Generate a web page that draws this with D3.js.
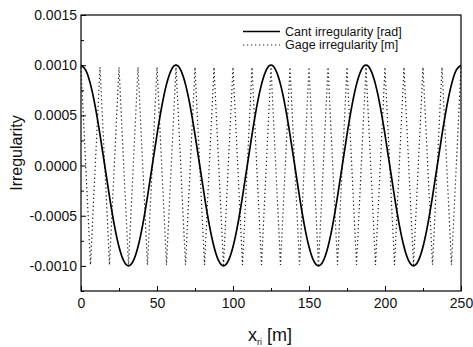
<!DOCTYPE html>
<html><head><meta charset="utf-8">
<script src="https://cdn.jsdelivr.net/npm/d3@7"></script>
<style>
html,body{margin:0;padding:0;background:#fff;}
text{font-family:"Liberation Sans",Arial,sans-serif;fill:#111;}
</style></head>
<body><svg id="c" width="473" height="347"></svg>
<script>
// ---- data ----
const xDomain = [0, 250];
const yDomain = [-0.00125, 0.0015];
const xTicks = [0, 50, 100, 150, 200, 250];
const xMinorTicks = [25, 75, 125, 175, 225];
const yTicks = [-0.0010, -0.0005, 0.0000, 0.0005, 0.0010, 0.0015];
const yMinorTicks = [-0.00125, -0.00075, -0.00025, 0.00025, 0.00075, 0.00125];
const seriesNames = ["Cant irregularity [rad]", "Gage irregularity [m]"];

// Cant irregularity, sampled every 3.125 m from x = 0 to 250
const cantStep = 3.125;
const cantValues = [
  0.001000, 0.000951, 0.000809, 0.000588, 0.000309, 0.000000, -0.000309, -0.000588, -0.000809, -0.000951,
 -0.001000,-0.000951,-0.000809,-0.000588,-0.000309, 0.000000,  0.000309,  0.000588,  0.000809,  0.000951,
  0.001000, 0.000951, 0.000809, 0.000588, 0.000309, 0.000000, -0.000309, -0.000588, -0.000809, -0.000951,
 -0.001000,-0.000951,-0.000809,-0.000588,-0.000309, 0.000000,  0.000309,  0.000588,  0.000809,  0.000951,
  0.001000, 0.000951, 0.000809, 0.000588, 0.000309, 0.000000, -0.000309, -0.000588, -0.000809, -0.000951,
 -0.001000,-0.000951,-0.000809,-0.000588,-0.000309, 0.000000,  0.000309,  0.000588,  0.000809,  0.000951,
  0.001000, 0.000951, 0.000809, 0.000588, 0.000309, 0.000000, -0.000309, -0.000588, -0.000809, -0.000951,
 -0.001000,-0.000951,-0.000809,-0.000588,-0.000309, 0.000000,  0.000309,  0.000588,  0.000809,  0.000951,
  0.001000
];

// Gage irregularity: peaks / troughs, every 6.25 m from x = 0 to 250
const gageStep = 6.25;
const gageValues = [
  0.00098, -0.00099, 0.00098, -0.00099, 0.00098, -0.00099, 0.00098, -0.00099, 0.00098, -0.00099,
  0.00098, -0.00099, 0.00098, -0.00099, 0.00098, -0.00099, 0.00098, -0.00099, 0.00098, -0.00099,
  0.00098, -0.00099, 0.00098, -0.00099, 0.00098, -0.00099, 0.00098, -0.00099, 0.00098, -0.00099,
  0.00098, -0.00099, 0.00098, -0.00099, 0.00098, -0.00099, 0.00098, -0.00099, 0.00098, -0.00099,
  0.00098
];

// ---- drawing ----
const svg = d3.select("#c");
const m = {left: 81, right: 12, top: 15, bottom: 56};
const W = 473, H = 347;
const x = d3.scaleLinear().domain(xDomain).range([m.left, W - m.right]);
const y = d3.scaleLinear().domain(yDomain).range([H - m.bottom, m.top]);
const fmtY = d => (d < -1e-12 ? "-" : "") + Math.abs(d).toFixed(4);

svg.append("rect").attr("width", W).attr("height", H).attr("fill", "#fff");

const cant = cantValues.map((v, i) => [i * cantStep, v]);
const gage = gageValues.map((v, i) => [i * gageStep, v]);
const smooth = d3.line().x(d => x(d[0])).y(d => y(d[1])).curve(d3.curveNatural);
const straight = d3.line().x(d => x(d[0])).y(d => y(d[1]));

svg.append("path").datum(gage).attr("d", straight)
  .attr("fill", "none").attr("stroke", "#222").attr("stroke-width", 1.2)
  .attr("stroke-dasharray", "1.3,2.7");
svg.append("path").datum(cant).attr("d", smooth)
  .attr("fill", "none").attr("stroke", "#000").attr("stroke-width", 1.7);

// axes
svg.append("g").attr("transform", `translate(0,${H - m.bottom})`)
  .call(d3.axisBottom(x).tickValues(xTicks).tickSize(-5).tickSizeOuter(0).tickPadding(7).tickFormat(d3.format("d")));
svg.append("g").attr("transform", `translate(0,${H - m.bottom})`)
  .call(d3.axisBottom(x).tickValues(xMinorTicks).tickSize(-3).tickSizeOuter(0).tickFormat(""));
svg.append("g").attr("transform", `translate(${m.left},0)`)
  .call(d3.axisLeft(y).tickValues(yTicks).tickSize(-5).tickSizeOuter(0).tickPadding(4).tickFormat(fmtY));
svg.append("g").attr("transform", `translate(${m.left},0)`)
  .call(d3.axisLeft(y).tickValues(yMinorTicks).tickSize(-3).tickSizeOuter(0).tickFormat(""));
svg.selectAll(".domain").remove();
svg.selectAll(".tick line").attr("stroke", "#000").attr("stroke-width", 1);
svg.selectAll(".tick text").attr("font-size", 14).attr("fill", "#111")
  .style("font-family", "'Liberation Sans',Arial,sans-serif");

// frame
svg.append("rect").attr("x", m.left).attr("y", m.top)
  .attr("width", W - m.right - m.left).attr("height", H - m.bottom - m.top)
  .attr("fill", "none").attr("stroke", "#000").attr("stroke-width", 1.2);

// legend
const lg = svg.append("g");
lg.append("line").attr("x1", 243).attr("x2", 280).attr("y1", 31.5).attr("y2", 31.5)
  .attr("stroke", "#000").attr("stroke-width", 1.7);
lg.append("text").attr("x", 285).attr("y", 31.5).attr("dy", "0.35em").attr("font-size", 12.5).text(seriesNames[0]);
lg.append("line").attr("x1", 243).attr("x2", 280).attr("y1", 45).attr("y2", 45)
  .attr("stroke", "#222").attr("stroke-width", 1.2).attr("stroke-dasharray", "1.3,2.7");
lg.append("text").attr("x", 285).attr("y", 45).attr("dy", "0.35em").attr("font-size", 12.5).text(seriesNames[1]);

// axis titles
const xt = svg.append("text").attr("x", 270).attr("y", 341).attr("text-anchor", "middle").attr("font-size", 18);
xt.append("tspan").text("x");
xt.append("tspan").attr("font-size", 9).attr("dy", 4).text("ri");
xt.append("tspan").attr("dy", -4).text(" [m]");

svg.append("text").attr("transform", "translate(16,153) rotate(-90)")
  .attr("text-anchor", "middle").attr("dy", "0.35em").attr("font-size", 16).text("Irregularity");
</script></body></html>
